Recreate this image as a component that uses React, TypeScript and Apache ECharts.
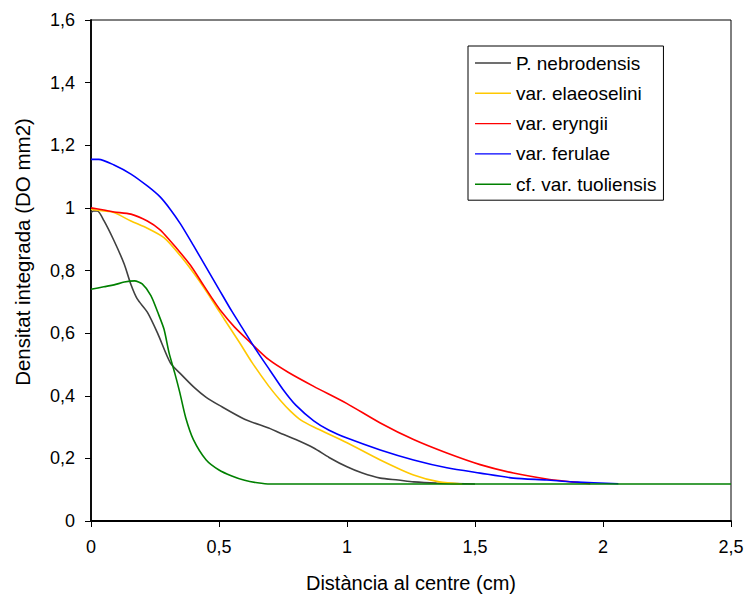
import React, { useEffect, useRef } from "react";
import * as echarts from "echarts";

const seriesNames = [
  "P. nebrodensis",
  "var. elaeoselini",
  "var. eryngii",
  "var. ferulae",
  "cf. var. tuoliensis",
];
const seriesColors = ["#404040", "#FFC800", "#FF0000", "#0000FF", "#008000"];

const nebrodensisX = [0, 0.01, 0.025, 0.05, 0.09, 0.13, 0.156, 0.18, 0.22, 0.26, 0.31, 0.35, 0.405, 0.45, 0.5, 0.6, 0.7, 0.74, 0.8, 0.87, 0.93, 1.0, 1.06, 1.13, 1.2, 1.26, 1.35, 1.5];
const nebrodensisY = [0.985, 0.99, 0.99, 0.96, 0.895, 0.82, 0.755, 0.71, 0.667, 0.6, 0.505, 0.47, 0.425, 0.395, 0.37, 0.325, 0.295, 0.28, 0.26, 0.233, 0.203, 0.173, 0.153, 0.137, 0.131, 0.125, 0.121, 0.118];

const elaeoseliniX = [0, 0.05, 0.09, 0.156, 0.22, 0.285, 0.35, 0.42, 0.485, 0.52, 0.58, 0.63, 0.695, 0.74, 0.78, 0.82, 0.87, 1.0, 1.13, 1.26, 1.36, 1.45];
const elaeoseliniY = [0.995, 0.99, 0.985, 0.958, 0.935, 0.905, 0.846, 0.77, 0.69, 0.645, 0.57, 0.505, 0.43, 0.385, 0.35, 0.322, 0.3, 0.25, 0.195, 0.147, 0.125, 0.118];

const eryngiiX = [0, 0.05, 0.09, 0.156, 0.22, 0.27, 0.31, 0.35, 0.39, 0.43, 0.47, 0.51, 0.56, 0.62, 0.695, 0.77, 0.87, 1.0, 1.13, 1.26, 1.39, 1.52, 1.65, 1.78, 1.88, 1.95];
const eryngiiY = [1.0, 0.993, 0.987, 0.98, 0.958, 0.93, 0.894, 0.856, 0.815, 0.765, 0.715, 0.668, 0.62, 0.572, 0.515, 0.475, 0.43, 0.375, 0.313, 0.26, 0.217, 0.18, 0.153, 0.134, 0.125, 0.119];

const ferulaeX = [0, 0.03, 0.09, 0.156, 0.22, 0.27, 0.31, 0.35, 0.4, 0.45, 0.5, 0.55, 0.6, 0.65, 0.7, 0.75, 0.8, 0.87, 0.93, 1.0, 1.13, 1.26, 1.39, 1.52, 1.65, 1.78, 1.88, 2.06];
const ferulaeY = [1.155, 1.155, 1.137, 1.108, 1.07, 1.035, 0.995, 0.948, 0.88, 0.81, 0.74, 0.67, 0.605, 0.54, 0.48, 0.42, 0.37, 0.32, 0.29, 0.265, 0.227, 0.195, 0.17, 0.153, 0.137, 0.131, 0.125, 0.119];

const tuoliensisX = [0, 0.05, 0.09, 0.13, 0.17, 0.2, 0.234, 0.26, 0.285, 0.305, 0.327, 0.347, 0.37, 0.4, 0.45, 0.5, 0.55, 0.6, 0.65, 0.7, 2.5];
const tuoliensisY = [0.74, 0.748, 0.754, 0.763, 0.767, 0.757, 0.72, 0.668, 0.613, 0.537, 0.473, 0.41, 0.33, 0.26, 0.195, 0.163, 0.144, 0.13, 0.122, 0.118, 0.118];

const xTitle = "Distància al centre (cm)";
const yTitle = "Densitat integrada (DO mm2)";

const FONT = "'Liberation Sans', Arial, sans-serif";

function pairs(xs: number[], ys: number[]) {
  return xs.map((x, i) => [x, ys[i]]);
}

const allData = [
  pairs(nebrodensisX, nebrodensisY),
  pairs(elaeoseliniX, elaeoseliniY),
  pairs(eryngiiX, eryngiiY),
  pairs(ferulaeX, ferulaeY),
  pairs(tuoliensisX, tuoliensisY),
];

const fmt = (v: number) => String(v).replace(".", ",");

export default function App() {
  const ref = useRef<HTMLDivElement>(null);
  useEffect(() => {
    if (!ref.current) return;
    const chart = echarts.init(ref.current, undefined, { renderer: "svg" });
    chart.setOption({
      animation: false,
      backgroundColor: "#ffffff",
      grid: {
        left: 91,
        right: 16,
        top: 20,
        bottom: 75,
        show: true,
        borderColor: "#000",
        borderWidth: 1,
      },
      legend: {
        left: 468,
        top: 46,
        orient: "vertical",
        data: seriesNames,
        icon: "path://M0,0H36V1.4H0Z",
        itemWidth: 36,
        itemHeight: 1.4,
        itemGap: 10.3,
        padding: [7, 7, 6, 7],
        borderColor: "#000",
        borderWidth: 1,
        backgroundColor: "#fff",
        textStyle: { fontFamily: FONT, fontSize: 19, color: "#000", lineHeight: 20 },
      },
      xAxis: {
        type: "value",
        min: 0,
        max: 2.5,
        interval: 0.5,
        axisLine: { onZero: false, lineStyle: { color: "#000", width: 1.8 } },
        axisTick: { show: true, length: 6, lineStyle: { color: "#000", width: 1 } },
        axisLabel: { margin: 17, fontFamily: FONT, fontSize: 18, color: "#000", formatter: fmt },
        splitLine: { show: false },
      },
      yAxis: {
        type: "value",
        min: 0,
        max: 1.6,
        interval: 0.2,
        axisLine: { show: true, onZero: false, lineStyle: { color: "#000", width: 1.8 } },
        axisTick: { show: true, length: 6, lineStyle: { color: "#000", width: 1 } },
        axisLabel: { margin: 16, fontFamily: FONT, fontSize: 18, color: "#000", formatter: fmt },
        splitLine: { show: false },
      },
      graphic: [
        {
          type: "text",
          x: 411,
          y: 583,
          style: {
            text: xTitle,
            font: `20px ${FONT}`,
            fill: "#000",
            align: "center",
            verticalAlign: "middle",
          },
        },
        {
          type: "text",
          x: 22,
          y: 252,
          rotation: Math.PI / 2,
          style: {
            text: yTitle,
            font: `20.5px ${FONT}`,
            fill: "#000",
            align: "center",
            verticalAlign: "middle",
          },
        },
      ],
      series: seriesNames.map((name, i) => ({
        name,
        type: "line",
        data: allData[i],
        showSymbol: false,
        symbol: "none",
        smooth: 0.25,
        color: seriesColors[i],
        itemStyle: { color: seriesColors[i] },
        lineStyle: { color: seriesColors[i], width: 1.6 },
      })),
    });
    return () => chart.dispose();
  }, []);
  return (
    <div
      ref={ref}
      style={{ position: "fixed", left: 0, top: 0, width: 747, height: 596 }}
    />
  );
}
